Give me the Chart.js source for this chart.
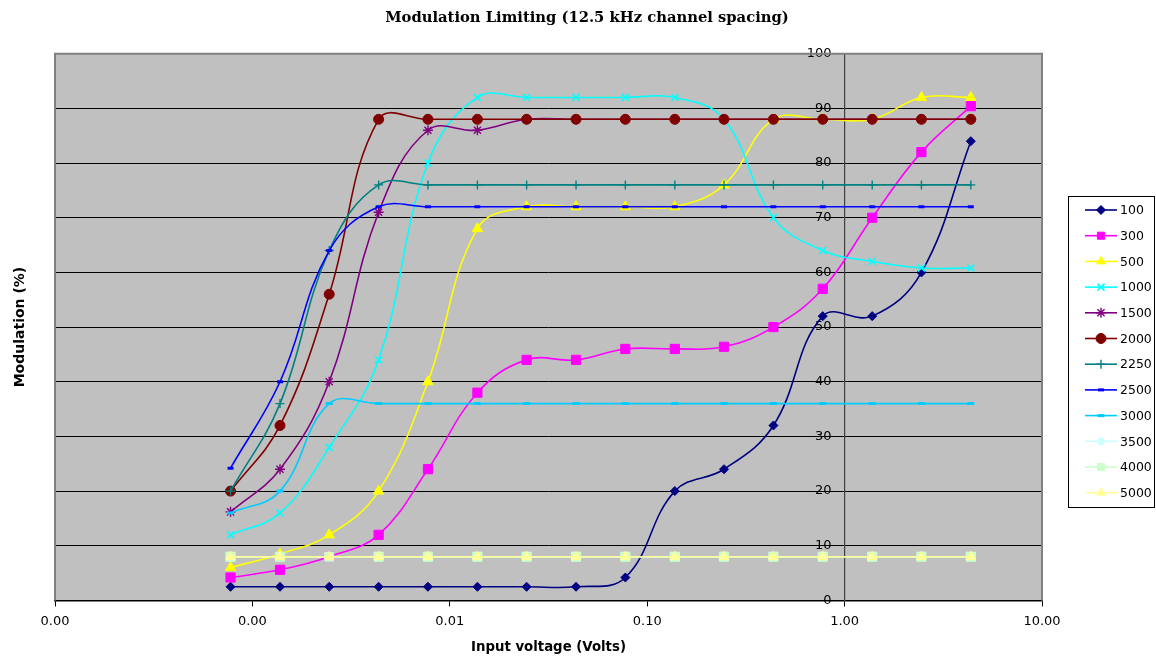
<!DOCTYPE html>
<html>
<head>
<meta charset="utf-8">
<script src="https://cdn.jsdelivr.net/npm/chart.js@4.4.0/dist/chart.umd.min.js"></script>
<style>
  html, body { margin: 0; padding: 0; background: #fff; }
  #wrap { width: 1156px; height: 660px; }
</style>
</head>
<body>
<div id="wrap"><canvas id="myChart"></canvas></div>
<script>
// input voltage of each measurement (Volts)
const voltages = [0.000775, 0.00138, 0.00245, 0.00436, 0.00775, 0.0138, 0.0245, 0.0436,
                  0.0775, 0.138, 0.245, 0.436, 0.775, 1.38, 2.45, 4.36];

// modulation (%) per audio frequency (Hz)
const s100  = [2.5, 2.5, 2.5, 2.5, 2.5, 2.5, 2.5, 2.5, 4.2, 20, 24, 32, 52, 52, 60, 84];
const s300  = [4.2, 5.6, 8, 12, 24, 38, 44, 44, 46, 46, 46.4, 50, 57, 70, 82, 90.4];
const s500  = [6, 8.5, 12, 20, 40, 68, 72, 72, 72, 72, 76, 88, 88, 88, 92, 92];
const s1000 = [12, 16, 28, 44, 80, 92, 92, 92, 92, 92, 88, 70, 64, 62, 60.8, 60.8];
const s1500 = [16.2, 24, 40, 71, 86, 86, 88, 88, 88, 88, 88, 88, 88, 88, 88, 88];
const s2000 = [20, 32, 56, 88, 88, 88, 88, 88, 88, 88, 88, 88, 88, 88, 88, 88];
const s2250 = [20, 36, 64, 76, 76, 76, 76, 76, 76, 76, 76, 76, 76, 76, 76, 76];
const s2500 = [24.2, 40, 64, 72, 72, 72, 72, 72, 72, 72, 72, 72, 72, 72, 72, 72];
const s3000 = [16, 20, 36, 36, 36, 36, 36, 36, 36, 36, 36, 36, 36, 36, 36, 36];
const s3500 = [8, 8, 8, 8, 8, 8, 8, 8, 8, 8, 8, 8, 8, 8, 8, 8];
const s4000 = [8, 8, 8, 8, 8, 8, 8, 8, 8, 8, 8, 8, 8, 8, 8, 8];
const s5000 = [8, 8, 8, 8, 8, 8, 8, 8, 8, 8, 8, 8, 8, 8, 8, 8];

const seriesNames = ['100', '300', '500', '1000', '1500', '2000', '2250', '2500', '3000', '3500', '4000', '5000'];
const seriesValues = [s100, s300, s500, s1000, s1500, s2000, s2250, s2500, s3000, s3500, s4000, s5000];
const xTicks = [0.0001, 0.001, 0.01, 0.1, 1, 10];

const SANS = '"DejaVu Sans", Verdana, sans-serif';

// look of each series (Excel defaults)
const styles = [
    { color: '#000080', point: 'rectRot', r: 4.5, bw: 1 },
    { color: '#FF00FF', point: 'rect', r: 6.5, bw: 1 },
    { color: '#FFFF00', point: 'triangle', r: 6, bw: 1 },
    { color: '#00FFFF', point: 'crossRot', r: 5, bw: 1.6 },
    { color: '#800080', point: 'star', r: 5, bw: 1.4 },
    { color: '#800000', point: 'circle', r: 5, bw: 1 },
    { color: '#008080', point: 'cross', r: 4.5, bw: 1.4 },
    { color: '#0000FF', point: 'line', r: 3, bw: 3 },
    { color: '#00CCFF', point: 'line', r: 3.5, bw: 3 },
    { color: '#CCFFFF', point: 'circle', r: 3.5, bw: 1 },
    { color: '#CCFFCC', point: 'rect', r: 6.5, bw: 1 },
    { color: '#FFFF99', point: 'triangle', r: 5.5, bw: 1 }
];

const datasets = seriesNames.map((name, i) => ({
    label: name,
    data: voltages.map((v, j) => ({ x: v, y: seriesValues[i][j] })),
    borderColor: styles[i].color,
    backgroundColor: styles[i].color,
    pointBorderColor: styles[i].color,
    pointBackgroundColor: styles[i].color,
    pointStyle: styles[i].point,
    pointRadius: styles[i].r,
    pointBorderWidth: styles[i].bw,
    borderWidth: 1.6,
    tension: 0.4,
    fill: false,
    order: -i
}));

const plotArea = {
    id: 'plotArea',
    beforeDraw(chart) {
        const { ctx, chartArea: a } = chart;
        ctx.save();
        ctx.fillStyle = '#C0C0C0';
        ctx.fillRect(a.left, a.top, a.width, a.height);
        ctx.restore();
    },
    afterDraw(chart) {
        const { ctx, chartArea: a } = chart;
        ctx.save();
        ctx.strokeStyle = '#808080';
        ctx.lineWidth = 2;
        ctx.beginPath();
        ctx.moveTo(a.left, a.bottom);
        ctx.lineTo(a.left, a.top);
        ctx.lineTo(a.right, a.top);
        ctx.lineTo(a.right, a.bottom);
        ctx.stroke();
        ctx.restore();

        // legend box
        const lx = 1068, ly = 196, lw = 86, lh = 311, row = 25.7;
        ctx.save();
        ctx.fillStyle = '#fff';
        ctx.fillRect(lx, ly, lw, lh);
        ctx.strokeStyle = '#000';
        ctx.lineWidth = 1;
        ctx.strokeRect(lx + 0.5, ly + 0.5, lw, lh);
        ctx.font = '12.5px ' + SANS;
        ctx.textBaseline = 'middle';
        ctx.textAlign = 'left';
        seriesNames.forEach((name, i) => {
            const y = ly + 14 + i * row;
            const st = styles[i];
            ctx.strokeStyle = st.color;
            ctx.fillStyle = st.color;
            ctx.lineWidth = 1.6;
            ctx.beginPath();
            ctx.moveTo(lx + 17, y);
            ctx.lineTo(lx + 49, y);
            ctx.stroke();
            ctx.lineWidth = st.bw;
            Chart.helpers.drawPoint(ctx, { pointStyle: st.point, radius: Math.min(st.r, 5), rotation: 0, borderWidth: st.bw }, lx + 33, y);
            ctx.fillStyle = '#000';
            ctx.fillText(name, lx + 52, y + 1);
        });
        ctx.restore();
    }
};

const chart = new Chart(document.getElementById('myChart'), {
    type: 'line',
    data: { datasets: datasets },
    plugins: [plotArea],
    options: {
        responsive: true,
        maintainAspectRatio: false,
        animation: false,
        layout: { padding: { left: 18, right: 0, top: 0, bottom: 4 } },
        plugins: {
            legend: { display: false },
            tooltip: { enabled: false },
            title: {
                display: true,
                text: 'Modulation Limiting (12.5 kHz channel spacing)',
                color: '#000',
                font: { family: '"DejaVu Serif", "Liberation Serif", serif', size: 14.75, weight: 'bold' },
                padding: { top: 9, bottom: 27 }
            }
        },
        scales: {
            x: {
                type: 'logarithmic',
                min: 0.0001,
                max: 10,
                afterBuildTicks: (scale) => {
                    scale.ticks = xTicks.map(v => ({ value: v }));
                },
                ticks: {
                    color: '#000',
                    font: { family: SANS, size: 13 },
                    padding: 7,
                    maxRotation: 0,
                    autoSkip: false,
                    callback: (v) => Number(v).toFixed(2)
                },
                grid: { drawOnChartArea: false, drawTicks: true, tickLength: 6, color: '#000' },
                border: { display: true, color: '#000', width: 1.5 },
                title: {
                    display: true,
                    text: 'Input voltage (Volts)',
                    color: '#000',
                    font: { family: SANS, size: 13.3, weight: 'bold' },
                    padding: { top: 4, bottom: 0 }
                }
            },
            y: {
                type: 'linear',
                position: { x: 1 },
                min: 0,
                max: 100,
                ticks: {
                    stepSize: 10,
                    color: '#000',
                    font: { family: SANS, size: 13 },
                    // labels of an axis placed at x = 1 sit flush on the axis; pad them off it
                    callback: (v) => v + '\u2002\u2002'
                },
                grid: { color: '#000', lineWidth: 1, drawTicks: true, tickLength: 5 },
                border: { display: true, color: '#404040', width: 1.2 }
            },
            // carries only the axis title at the far left
            yTitle: {
                type: 'linear',
                position: 'left',
                min: 0,
                max: 100,
                ticks: { display: false },
                grid: { display: false, drawTicks: false },
                border: { display: false },
                title: {
                    display: true,
                    text: 'Modulation (%)',
                    color: '#000',
                    font: { family: SANS, size: 14, weight: 'bold' },
                    padding: { top: -6.4, bottom: 0 }
                },
                afterFit: (scale) => { scale.width = 37; }
            },
            // empty strip on the right that holds the legend
            yRight: {
                type: 'linear',
                position: 'right',
                min: 0,
                max: 100,
                ticks: { display: false },
                grid: { display: false, drawTicks: false },
                border: { display: false },
                afterFit: (scale) => { scale.width = 114; }
            }
        }
    }
});
</script>
</body>
</html>
